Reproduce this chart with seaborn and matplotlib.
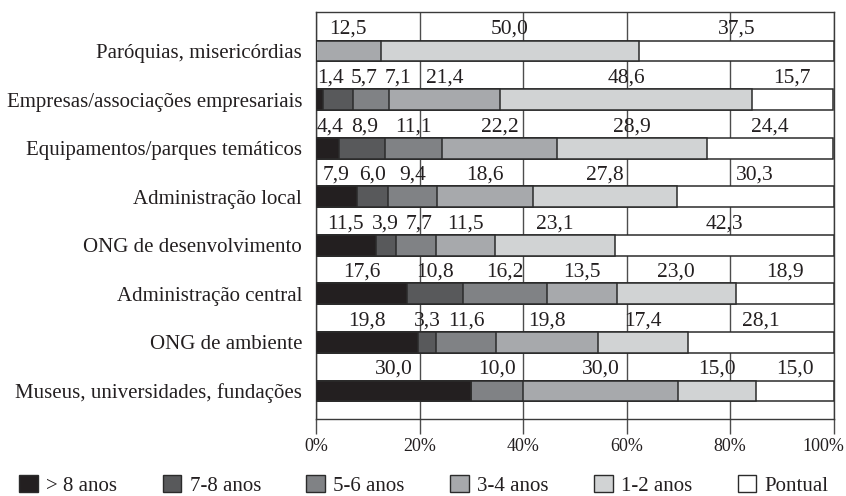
import matplotlib
matplotlib.use("Agg")
import matplotlib.pyplot as plt
import matplotlib.transforms as mtransforms
from matplotlib.patches import Patch
import seaborn as sns
import pandas as pd
import numpy as np

sns.set_theme(style="white")
plt.rcParams["font.family"] = ["Liberation Serif", "DejaVu Serif"]

categories = [
    "Paróquias, misericórdias",
    "Empresas/associações empresariais",
    "Equipamentos/parques temáticos",
    "Administração local",
    "ONG de desenvolvimento",
    "Administração central",
    "ONG de ambiente",
    "Museus, universidades, fundações",
]
series = ["> 8 anos", "7-8 anos", "5-6 anos", "3-4 anos", "1-2 anos", "Pontual"]
colors = ["#231f20", "#58595b", "#808285", "#a7a9ac", "#d1d3d4", "#ffffff"]

mais_8 = [0.0, 1.4, 4.4, 7.9, 11.5, 17.6, 19.8, 30.0]
anos_7_8 = [0.0, 5.7, 8.9, 6.0, 3.9, 10.8, 3.3, 0.0]
anos_5_6 = [0.0, 7.1, 11.1, 9.4, 7.7, 16.2, 11.6, 10.0]
anos_3_4 = [12.5, 21.4, 22.2, 18.6, 11.5, 13.5, 19.8, 30.0]
anos_1_2 = [50.0, 48.6, 28.9, 27.8, 23.1, 23.0, 17.4, 15.0]
pontual = [37.5, 15.7, 24.4, 30.3, 42.3, 18.9, 28.1, 15.0]

values = np.array([mais_8, anos_7_8, anos_5_6, anos_3_4, anos_1_2, pontual])
cum = np.cumsum(values, axis=0)

W, H = 846, 496
ax_l, ax_r, ax_t, ax_b = 316, 833.5, 12, 419
fig = plt.figure(figsize=(W / 100, H / 100), dpi=100)
ax = fig.add_axes([ax_l / W, 1 - ax_b / H, (ax_r - ax_l) / W, (ax_b - ax_t) / H])

text_col = "#231f20"
edge = "#2b2b2b"
bar_h = 0.43

# Stacked bars: draw cumulative totals from the outermost segment inwards
for i in range(len(series) - 1, -1, -1):
    df = pd.DataFrame({"cat": categories, "x": np.minimum(cum[i], 100.0)})
    sns.barplot(data=df, x="x", y="cat", order=categories, orient="h",
                color=colors[i], width=bar_h, edgecolor=edge, linewidth=1.1,
                saturation=1, ax=ax, zorder=3)

pitch = (391 - 51) / 7
ax.set_xlim(0, 100)
ax.set_ylim(7 + (ax_b - 391) / pitch, -(51 - ax_t) / pitch)

# Value labels above each bar, centred on the segment and nudged apart
font_pt = 15.5
px_per_pct = (ax_r - ax_l) / 100
em_px = font_pt * 100 / 72

def text_width_pct(s):
    w = sum(0.25 if ch == "," else 0.5 for ch in s) * em_px
    return w / px_per_pct

gap = 1.3
for r in range(len(categories)):
    items = []
    left = 0.0
    for i in range(len(series)):
        v = values[i, r]
        if v > 0:
            s = f"{v:.1f}".replace(".", ",")
            items.append([left + v / 2, s, text_width_pct(s)])
        left += v
    prev_right = None
    for it in items:
        c, s, w = it
        lo = 0.2 + w / 2 if prev_right is None else prev_right + gap + w / 2
        it[0] = max(c, lo)
        prev_right = it[0] + w / 2
    for c, s, w in items:
        ax.text(c, r - 0.35, s, ha="center", va="baseline", fontsize=font_pt,
                color=text_col, zorder=4)

ax.set_xticks([0, 20, 40, 60, 80, 100])
ax.set_xticklabels(["0%", "20%", "40%", "60%", "80%", "100%"])
ax.xaxis.grid(True, color="#4d4d4d", linewidth=1.0, zorder=0)
ax.yaxis.grid(False)
ax.set_axisbelow(True)
ax.set_xlabel("")
ax.set_ylabel("")
ax.tick_params(axis="x", direction="out", length=10.5, width=1.0, color="#4d4d4d",
               labelsize=13, pad=3.5, bottom=True, labelcolor=text_col)
ax.tick_params(axis="y", length=0, pad=10, labelsize=15, labelcolor=text_col)
for sp in ax.spines.values():
    sp.set_visible(True)
    sp.set_color("#3a3a3a")
    sp.set_linewidth(1.0)

# Keep the last percentage label inside the figure
last = ax.get_xticklabels()[-1]
last.set_transform(last.get_transform() +
                   mtransforms.ScaledTranslation(-0.10, 0, fig.dpi_scale_trans))

# Legend entries on an even grid along the bottom edge
leg_x0, leg_dx, leg_y = 19, 143.7, 485.5
for i, (name, col) in enumerate(zip(series, colors)):
    h = Patch(facecolor=col, edgecolor=edge, linewidth=1.0)
    fig.legend([h], [name], loc="center left",
               bbox_to_anchor=((leg_x0 + i * leg_dx) / W, 1 - leg_y / H),
               frameon=False, fontsize=15, handlelength=0.9, handleheight=0.9,
               handletextpad=0.4, borderaxespad=0, borderpad=0,
               labelcolor=text_col)

fig.savefig("out.png", dpi=100)
